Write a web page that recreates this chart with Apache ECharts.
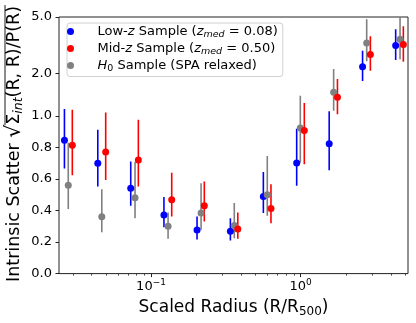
<!DOCTYPE html>
<html><head><meta charset="utf-8">
<script src="https://cdn.jsdelivr.net/npm/echarts@6/dist/echarts.min.js"></script>
<style>html,body{margin:0;padding:0;background:#fff}#c{width:416px;height:323px}</style>
</head><body><div id="c"></div>
<script>
// ---------------- data ----------------
const xLow = [0.0264, 0.0441, 0.0732, 0.122, 0.203, 0.339, 0.563, 0.940, 1.55, 2.59, 4.31];
const yLow = [0.846, 0.700, 0.542, 0.372, 0.277, 0.269, 0.490, 0.702, 0.824, 2.23, 3.15];
const loLow = [0.668, 0.553, 0.431, 0.295, 0.217, 0.210, 0.384, 0.557, 0.656, 1.77, 2.49];
const hiLow = [1.12, 0.914, 0.712, 0.487, 0.363, 0.351, 0.645, 0.919, 1.08, 2.89, 4.10];

const xMid = [0.0298, 0.0498, 0.0823, 0.1375, 0.227, 0.380, 0.633, 1.057, 1.76, 2.92, 4.85];
const yMid = [0.815, 0.772, 0.721, 0.469, 0.431, 0.283, 0.414, 0.908, 1.36, 2.72, 3.20];
const loMid = [0.625, 0.595, 0.553, 0.363, 0.330, 0.221, 0.320, 0.694, 1.03, 2.09, 2.42];
const hiMid = [1.11, 1.06, 0.977, 0.641, 0.584, 0.388, 0.567, 1.235, 1.83, 3.66, 4.30];

const xH0 = [0.0280, 0.0469, 0.0782, 0.130, 0.216, 0.360, 0.598, 0.994, 1.66, 2.76, 4.61];
const yH0 = [0.561, 0.361, 0.481, 0.301, 0.384, 0.305, 0.500, 0.925, 1.475, 3.28, 3.49];
const loH0 = [0.410, 0.262, 0.351, 0.221, 0.279, 0.225, 0.367, 0.704, 1.09, 2.44, 2.52];
const hiH0 = [0.830, 0.536, 0.708, 0.388, 0.574, 0.448, 0.746, 1.39, 2.15, 4.82, 6.0];

const seriesNames = ['Low-z', 'Mid-z', 'H0'];
const legendLabels = {
  'Low-z': '{n|Low-}{i|z}{n| Sample (}{i|z}{s|med}{n| = 0.08)}',
  'Mid-z': '{n|Mid-}{i|z}{n| Sample (}{i|z}{s|med}{n| = 0.50)}',
  'H0': '{i|H}{s0|0}{n| Sample (SPA relaxed)}'
};
const yTickValues = [0.0, 0.2, 0.4, 0.6, 0.8, 1.0, 2.0, 5.0];
const xMajorTicks = [0.1, 1];
const xMinorTicks = [0.03, 0.04, 0.05, 0.06, 0.07, 0.08, 0.09, 0.2, 0.3, 0.4, 0.5, 0.6, 0.7, 0.8, 0.9, 2, 3, 4, 5];
const xRange = [0.02428, 5.21];
const yMaxValue = 5.0;

// ---------------- symlog-like y scale (linear below 1, log above) ----------------
function T(v) { return v <= 1 ? v : 1 + 0.9 * Math.log10(v); }

const FONT = 'DejaVu Sans';
const TXT = '#000';
const SPINE = '#222';
const TICKFS = 13;
const colors = { 'Low-z': '#0000ff', 'Mid-z': '#ff0000', 'H0': '#808080' };

function barSeries(name, xs, lo, hi) {
  const color = colors[name];
  return {
    type: 'custom', name: name + ' err', clip: true, silent: true,
    data: xs.map((x, i) => [x, T(lo[i]), T(hi[i])]),
    encode: { x: 0, y: [1, 2] },
    renderItem(params, api) {
      const a = api.coord([api.value(0), api.value(1)]);
      const b = api.coord([api.value(0), api.value(2)]);
      return { type: 'line', shape: { x1: a[0], y1: a[1], x2: b[0], y2: b[1] },
        style: { stroke: color, lineWidth: 1.6 } };
    }
  };
}
function ptSeries(name, xs, ys) {
  return {
    type: 'scatter', name, silent: true, symbol: 'circle', symbolSize: 7,
    data: xs.map((x, i) => [x, T(ys[i])]),
    itemStyle: { color: colors[name], opacity: 1 }
  };
}

// ---------------- y label (rotated, with radical) ----------------
const ctx = document.createElement('canvas').getContext('2d');
function tw(t, size, italic) { ctx.font = (italic ? 'italic ' : '') + size + 'px "' + FONT + '"'; return ctx.measureText(t).width; }
const LBL = 17.5;
const parts = [
  { t: 'Intrinsic Scatter ', s: LBL, it: false, dy: 0 },
  { t: '\u221A', s: LBL + 3, it: false, dy: 1 },
  { t: '\u03A3', s: LBL, it: false, dy: 0, bar: true },
  { t: 'int', s: 12.5, it: true, dy: 4.5 },
  { t: '(R, R)/P(R)', s: LBL, it: false, dy: 0 }
];
let total = 0;
parts.forEach(p => { p.w = tw(p.t, p.s, p.it); total += p.w; });
let off = -total / 2, barStart = 0;
const yLabelChildren = [];
parts.forEach(p => {
  if (p.bar) barStart = off - 0.5;
  yLabelChildren.push({ type: 'text', x: off, y: p.dy, style: {
    text: p.t, fontSize: p.s, fontFamily: FONT, fontStyle: p.it ? 'italic' : 'normal',
    fill: TXT, align: 'left', verticalAlign: 'middle' } });
  off += p.w;
});
yLabelChildren.push({ type: 'line', shape: { x1: barStart, y1: -9, x2: off + 1, y2: -9 },
  style: { stroke: TXT, lineWidth: 0.9 } });

const chart = echarts.init(document.getElementById('c'), null, { renderer: 'canvas' });
const option = {
  animation: false,
  backgroundColor: '#fff',
  grid: { left: 59, top: 17, width: 349, height: 257, show: true, borderColor: SPINE, borderWidth: 1, backgroundColor: 'transparent' },
  legend: {
    data: seriesNames, orient: 'vertical', left: 67, top: 23,
    padding: [2, 5, 2.5, 0], itemGap: 2, itemWidth: 36, itemHeight: 7,
    backgroundColor: 'rgba(255,255,255,0.8)', borderColor: '#d0d0d0', borderWidth: 1, borderRadius: 3,
    selectedMode: false,
    formatter: n => legendLabels[n],
    textStyle: { fontFamily: FONT, color: TXT, padding: [0, 0, 0, 4],
      rich: {
        n: { fontSize: 13, fontFamily: FONT, color: TXT, lineHeight: 17 },
        i: { fontSize: 13, fontFamily: FONT, fontStyle: 'italic', color: TXT, lineHeight: 17 },
        s: { fontSize: 9.5, fontFamily: FONT, fontStyle: 'italic', color: TXT, lineHeight: 10, verticalAlign: 'bottom' },
        s0: { fontSize: 9.5, fontFamily: FONT, color: TXT, lineHeight: 10, verticalAlign: 'bottom' }
      } }
  },
  xAxis: [{
    type: 'log', logBase: 10, min: xRange[0], max: xRange[1], position: 'bottom',
    axisLine: { show: false },
    axisTick: { show: true, length: 3.5, customValues: xMajorTicks, lineStyle: { color: SPINE, width: 1 } },
    splitLine: { show: false },
    axisLabel: { customValues: xMajorTicks, margin: 5, color: TXT,
      formatter: v => { const e = Math.round(Math.log10(v)); return '{b|10}{p|' + (e < 0 ? '\u2212' : '') + Math.abs(e) + '}'; },
      rich: { b: { fontSize: TICKFS, fontFamily: FONT, color: TXT, lineHeight: 16 },
              p: { fontSize: 9, fontFamily: FONT, color: TXT, lineHeight: 9, verticalAlign: 'top' } } },
    name: 'Scaled Radius (R/R{s|500})', nameLocation: 'middle', nameGap: 16,
    nameTextStyle: { fontSize: 17, fontFamily: FONT, color: TXT, lineHeight: 20,
      rich: { s: { fontSize: 12, fontFamily: FONT, color: TXT, lineHeight: 12, verticalAlign: 'bottom' } } }
  }, {
    type: 'log', logBase: 10, min: xRange[0], max: xRange[1], position: 'bottom', gridIndex: 0,
    axisLine: { show: false }, axisLabel: { show: false }, splitLine: { show: false },
    axisTick: { show: true, length: 2, customValues: xMinorTicks, lineStyle: { color: SPINE, width: 0.8 } }
  }],
  yAxis: {
    type: 'value', min: 0, max: T(yMaxValue),
    axisLine: { show: false }, splitLine: { show: false },
    axisTick: { show: true, length: 3.5, customValues: yTickValues.map(T), lineStyle: { color: SPINE, width: 1 } },
    axisLabel: { customValues: yTickValues.map(T), margin: 7, color: TXT, fontSize: TICKFS, fontFamily: FONT,
      formatter: v => { const t = yTickValues.find(q => Math.abs(T(q) - v) < 1e-6); return (t === undefined ? v : t).toFixed(1); } }
  },
  series: [
    barSeries('Low-z', xLow, loLow, hiLow), ptSeries('Low-z', xLow, yLow),
    barSeries('H0', xH0, loH0, hiH0), ptSeries('H0', xH0, yH0),
    barSeries('Mid-z', xMid, loMid, hiMid), ptSeries('Mid-z', xMid, yMid)
  ],
  graphic: [{ type: 'group', x: 14, y: 144, rotation: Math.PI / 2, children: yLabelChildren }]
};
chart.setOption(option);
</script>
</body></html>
